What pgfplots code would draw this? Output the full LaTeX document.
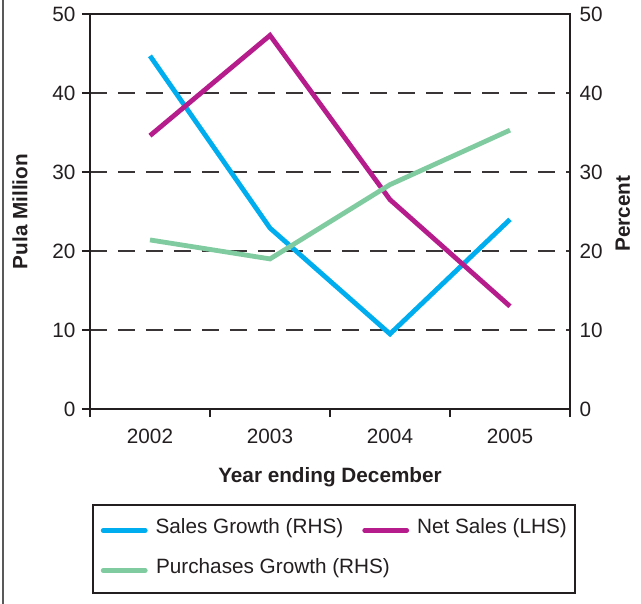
\documentclass[border=0pt]{standalone}
\usepackage{pgfplots}
\pgfplotsset{compat=1.18}
\usepackage{fontspec}
\setmainfont{Liberation Sans}
\definecolor{cyanS}{RGB}{0,174,239}
\definecolor{magS}{RGB}{182,28,140}
\definecolor{greenS}{RGB}{128,204,160}
\definecolor{txt}{RGB}{35,31,32}
\begin{document}
\begin{tikzpicture}
\useasboundingbox (-90bp,-195bp) rectangle (551bp,409bp);
\draw[color=gray!70!black, line width=1.4bp] (-87bp,-196bp) -- (-87bp,410bp);
\begin{axis}[name=ax, at={(0,0)}, anchor=south west,
 scale only axis, width=480bp, height=395bp,
 xmin=-0.5, xmax=3.5, ymin=0, ymax=50,
 xtick={0,1,2,3}, xticklabels={2002,2003,2004,2005},
 minor xtick={-0.5,0.5,1.5,2.5,3.5},
 ytick={0,10,20,30,40,50},
 ytick pos=left, xtick pos=bottom,
 tick align=outside,
 major tick length=8bp, minor tick length=8bp,
 major x tick style={draw=none},
 every tick/.style={line width=1.2bp, color=txt},
 ymajorgrids,
 grid style={dash pattern=on 17bp off 11bp, line width=1.2bp, color=txt!90},
 axis line style={line width=1.8bp, color=txt},
 ticklabel style={font=\fontsize{20.8}{24}\selectfont, text=txt},
 xticklabel style={yshift=-9bp},
 yticklabel style={xshift=-3bp},
 /pgf/number format/assume math mode=true,
 xlabel={\bfseries Year ending December},
 ylabel={\bfseries Pula Million},
 label style={font=\fontsize{20.8}{24}\selectfont, text=txt},
 xlabel style={at={(axis description cs:0.5,-0.172)}, anchor=center},
 ylabel style={at={(axis description cs:-0.146,0.5)}, anchor=center},
 legend columns=2,
 legend image code/.code={\draw[#1, line cap=round] (0bp,-1.5bp) -- (42bp,-1.5bp);},
 legend style={at={(axis description cs:0.004,-0.2405)}, anchor=north west,
   draw=txt, line width=1.8bp, inner xsep=8bp, inner ysep=14bp,
   font=\fontsize{20.8}{24}\selectfont, text=txt,
   nodes={inner sep=0pt, text height=15bp, text depth=5bp},
   row sep=20bp,
   /tikz/every odd column/.append style={column sep=8bp},
   /tikz/every even column/.append style={column sep=19bp}},
 legend cell align=left,
]
\addplot[color=cyanS, line width=4.8bp] coordinates {(0,44.7) (1,22.9) (2,9.5) (3,24.0)};
\addlegendentry{Sales Growth (RHS)}
\addplot[color=magS, line width=4.8bp] coordinates {(0,34.6) (1,47.3) (2,26.5) (3,13.0)};
\addlegendentry{Net Sales (LHS)}
\addplot[color=greenS, line width=4.8bp] coordinates {(0,21.4) (1,19.0) (2,28.4) (3,35.3)};
\addlegendentry{\makebox[0pt][l]{Purchases Growth (RHS)}}
\end{axis}
\begin{axis}[at={(0,0)}, anchor=south west,
 scale only axis, width=480bp, height=395bp,
 xmin=-0.5, xmax=3.5, ymin=0, ymax=50,
 axis x line=none, axis y line*=right,
 ytick={0,10,20,30,40,50},
 major tick length=0bp,
 axis line style={line width=1.8bp, color=txt, -},
 ticklabel style={font=\fontsize{20.8}{24}\selectfont, text=txt},
 yticklabel style={xshift=6bp},
 /pgf/number format/assume math mode=true,
 ylabel={\bfseries Percent},
 label style={font=\fontsize{20.8}{24}\selectfont, text=txt},
 ylabel style={at={(axis description cs:1.110,0.495)}, anchor=center, rotate=0},
]
\end{axis}
\end{tikzpicture}
\end{document}
